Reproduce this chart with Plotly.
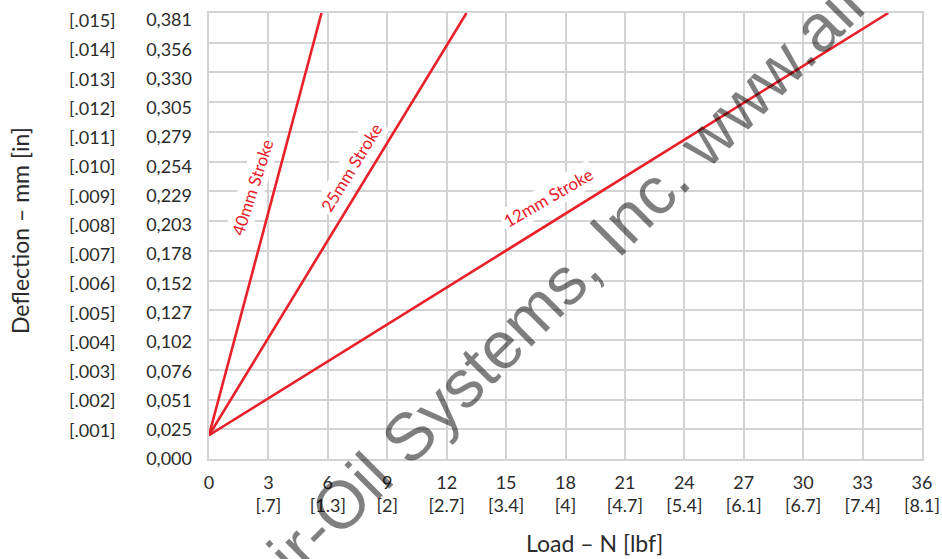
import plotly.graph_objects as go

# ---- data ----
stroke_names = ["40mm Stroke", "25mm Stroke", "12mm Stroke"]
load_start_N = [0.0, 0.0, 0.0]
load_end_N = [5.68, 13.0, 34.3]
defl_start_mm = [0.0203, 0.0203, 0.0203]
defl_end_mm = [0.381, 0.381, 0.381]

# label positions along lines (data coords) and angles
label_x = [2.17, 7.17, 17.12]
label_y = [0.2323, 0.2494, 0.2238]
label_angle = [-72, -58.5, -30]

x_tickvals = [0, 3, 6, 9, 12, 15, 18, 21, 24, 27, 30, 33, 36]
x_lbf = ["", "[.7]", "[1.3]", "[2]", "[2.7]", "[3.4]", "[4]", "[4.7]", "[5.4]",
         "[6.1]", "[6.7]", "[7.4]", "[8.1]"]

y_inch = [0.000, 0.001, 0.002, 0.003, 0.004, 0.005, 0.006, 0.007, 0.008,
          0.009, 0.010, 0.011, 0.012, 0.013, 0.014, 0.015]
y_mm_text = ["0,000", "0,025", "0,051", "0,076", "0,102", "0,127", "0,152", "0,178",
             "0,203", "0,229", "0,254", "0,279", "0,305", "0,330", "0,356", "0,381"]
y_inch_text = ["", "[.001]", "[.002]", "[.003]", "[.004]", "[.005]", "[.006]", "[.007]",
               "[.008]", "[.009]", "[.010]", "[.011]", "[.012]", "[.013]", "[.014]", "[.015]"]

RED = "#e8202a"
GRID = "#d3d3d3"
TXT = "#2b2b2b"
FONT = "Lato"

y_mm_vals = [v * 25.4 for v in y_inch]
Y_TOP = y_mm_vals[-1]
# label axis is slightly stretched vs grid (labels drift down near the top)
Y2_TOP = Y_TOP * 446.0 / 439.0

fig = go.Figure()
for i, name in enumerate(stroke_names):
    fig.add_trace(go.Scatter(
        x=[load_start_N[i], load_end_N[i]],
        y=[defl_start_mm[i], defl_end_mm[i]],
        mode="lines", line=dict(color=RED, width=2.6),
        name=name, showlegend=False, hoverinfo="skip"))

# invisible trace for label axis
fig.add_trace(go.Scatter(x=[0], y=[0], yaxis="y2", mode="markers",
                         marker=dict(opacity=0), showlegend=False, hoverinfo="skip"))

fig.update_layout(
    width=942, height=559,
    margin=dict(l=209, r=20, t=13, b=100, autoexpand=False),
    paper_bgcolor="white", plot_bgcolor="white",
    font=dict(family=FONT, color=TXT, size=18),
    xaxis=dict(
        range=[0, 36], tickvals=x_tickvals, automargin=False,
        ticktext=[f"{v}<br>{t}" if t else f"{v}" for v, t in zip(x_tickvals, x_lbf)],
        showgrid=True, gridcolor=GRID, gridwidth=2,
        showline=True, linecolor=GRID, linewidth=2, mirror=True,
        zeroline=False, ticks="", ticklabelstandoff=6,
        tickfont=dict(size=18, family=FONT, color=TXT),
    ),
    yaxis=dict(
        range=[0, Y_TOP], tickvals=y_mm_vals, showticklabels=False, automargin=False,
        showgrid=True, gridcolor=GRID, gridwidth=2,
        showline=True, linecolor=GRID, linewidth=2, mirror=True,
        zeroline=False, ticks="",
    ),
    yaxis2=dict(
        range=[0, Y2_TOP], overlaying="y", side="left", automargin=False,
        tickvals=y_mm_vals, ticktext=y_mm_text,
        showgrid=False, zeroline=False, showline=False, ticks="",
        ticklabelstandoff=16,
        tickfont=dict(size=18, family=FONT, color=TXT),
    ),
)

# inch column of y labels
for v, t in zip(y_mm_vals, y_inch_text):
    if t:
        fig.add_annotation(x=(118 - 209) / 713.0, xref="paper", y=v, yref="y2",
                           text=t, showarrow=False, xanchor="right", yanchor="middle",
                           font=dict(size=18, family=FONT, color=TXT))

# line labels
for name, lx, ly, ang in zip(stroke_names, label_x, label_y, label_angle):
    fig.add_annotation(x=lx, y=ly, xref="x", yref="y", text=name, showarrow=False,
                       textangle=ang, bgcolor="white", borderpad=2,
                       font=dict(size=17, family=FONT, color=RED))

# axis titles
fig.add_annotation(x=(594 - 209) / 713.0, y=-(543 - 459) / 446.0, xref="paper", yref="paper",
                   text="Load – N [lbf]", showarrow=False, xanchor="center", yanchor="middle",
                   font=dict(size=23, family=FONT, color=TXT))
fig.add_annotation(x=-(209 - 20) / 713.0, y=(459 - 230) / 446.0, xref="paper", yref="paper",
                   text="Deflection – mm [in]", showarrow=False, textangle=-90,
                   xanchor="center", yanchor="middle",
                   font=dict(size=23, family=FONT, color=TXT))

# watermark
fig.add_annotation(x=(627 - 209) / 713.0, y=(459 - 217) / 446.0, xref="paper", yref="paper",
                   text="Air-Oil Systems, Inc. www.airoil.com", showarrow=False,
                   textangle=-45, xanchor="center", yanchor="middle",
                   font=dict(size=67, family="Liberation Sans", color="rgba(0,0,0,0.5)"))

fig.write_html("out.html")
